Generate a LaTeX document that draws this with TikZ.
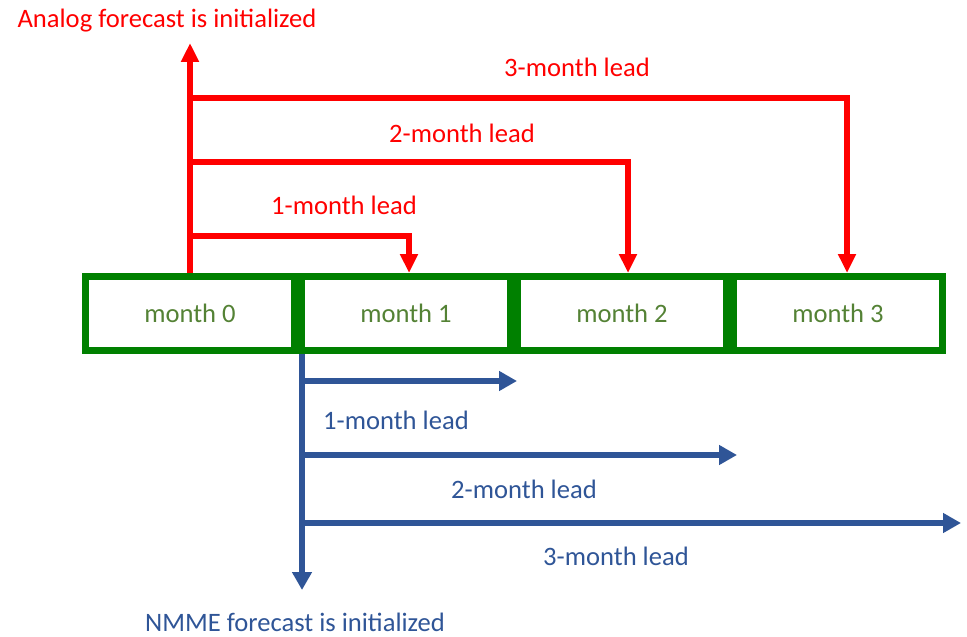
\documentclass[tikz,border=0pt]{standalone}
\usepackage{fontspec}
\setmainfont{Carlito}
\usetikzlibrary{positioning,arrows.meta}
\definecolor{leadred}{RGB}{255,0,0}
\definecolor{boxgreen}{RGB}{0,128,0}
\definecolor{textgreen}{RGB}{84,130,53}
\definecolor{nmmeblue}{RGB}{47,85,151}

\begin{document}
\begin{tikzpicture}[x=0.5pt,y=-0.5pt,font=\fontsize{13.3}{16}\selectfont,
    month/.style={draw=boxgreen,line width=3.5pt,outer sep=1.75pt,text=textgreen,minimum width=104.5pt,minimum height=37pt,inner sep=0pt},
    analog lead/.style={draw=leadred,line width=3pt,-{Triangle[width=8.5pt,length=9.5pt]}},
    nmme lead/.style={draw=nmmeblue,line width=3pt,-{Triangle[width=9.5pt,length=9pt]}}]
        \useasboundingbox (0,0) rectangle (967,636);
        % the four months
        \node[month] (m0) at (190,313.5) {month 0};
        \node[month,right=0pt of m0] (m1) {month 1};
        \node[month,right=0pt of m1] (m2) {month 2};
        \node[month,right=0pt of m2] (m3) {month 3};
        % analog forecast, above
        \coordinate (atop) at (190,43);
        \node[text=leadred] (analog) at (167,21) {Analog forecast is initialized};
        \draw[analog lead] (m0.north) to (atop);
        \draw[analog lead] (m0.north) ++(0,-37) -| ([xshift=1.5pt]m1.north);
        \draw[analog lead] (m0.north) ++(0,-111) -| ([xshift=3pt]m2.north);
        \draw[analog lead] (m0.north) ++(0,-175) -| ([xshift=4.5pt]m3.north);
        \node[text=leadred] (alead1) at (344,205) {1-month lead};
        \node[text=leadred] (alead2) at (462,133) {2-month lead};
        \node[text=leadred] (alead3) at (577,67) {3-month lead};
        % NMME forecast, below
        \coordinate (nmme) at ([xshift=2pt]m1.south west);
        \draw[nmme lead] (nmme) to ++(0,236);
        \draw[nmme lead] (nmme) ++(0,27) to ++(215,0);
        \draw[nmme lead] (nmme) ++(0,101) to ++(435,0);
        \draw[nmme lead] (nmme) ++(0,169) to ++(659,0);
        \node[text=nmmeblue] (nlead1) at (396,420) {1-month lead};
        \node[text=nmmeblue] (nlead2) at (524,489) {2-month lead};
        \node[text=nmmeblue] (nlead3) at (616,556) {3-month lead};
        \node[text=nmmeblue] (nmmetxt) at (295,622) {NMME forecast is initialized};
      \end{tikzpicture}
\end{document}
